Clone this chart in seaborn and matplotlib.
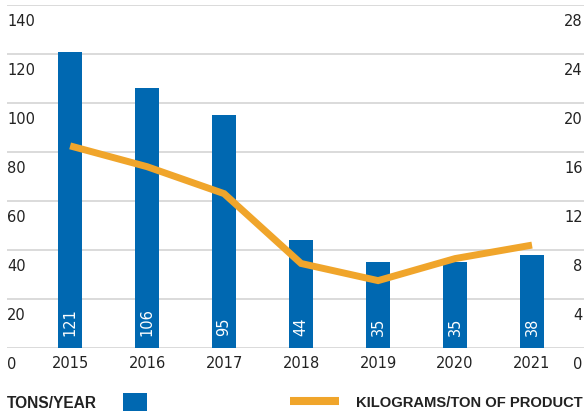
import numpy as np
import pandas as pd
import seaborn as sns
import matplotlib.pyplot as plt
import matplotlib.transforms as mtransforms
from matplotlib.patches import Patch
from matplotlib.lines import Line2D

# values
years = ["2015", "2016", "2017", "2018", "2019", "2020", "2021"]
tons_per_year = [121, 106, 95, 44, 35, 35, 38]
kg_per_ton = [16.5, 14.8, 12.6, 6.9, 5.5, 7.3, 8.4]
left_ticks = [0, 20, 40, 60, 80, 100, 120, 140]
right_ticks = [0, 4, 8, 12, 16, 20, 24, 28]

blue = "#0068b1"
orange = "#f0a52b"
grid_gray = "#d4d4d4"
text_col = "#222222"

sns.set_style("white")
plt.rcParams["font.family"] = ["DejaVu Sans"]

df = pd.DataFrame({"year": years, "tons": tons_per_year, "kg": kg_per_ton})
df["pos"] = np.arange(len(df))

fig = plt.figure(figsize=(5.86, 4.14), dpi=100)
ax = fig.add_axes([7 / 586, 1 - 349 / 414, 577 / 586, 343 / 414])

sns.barplot(data=df, x="year", y="tons", color=blue, width=0.31,
            saturation=1, linewidth=0, ax=ax)

# white rotated values near the base of each bar
for i, v in enumerate(tons_per_year):
    ax.annotate(str(v), xy=(i, 0), xytext=(0, 9.5), textcoords="offset points",
                rotation=90, ha="center", va="bottom", color="white", fontsize=10.5)

ax.set_ylim(0, 140)
ax.set_yticks(left_ticks)
ax.yaxis.grid(True, color=grid_gray, lw=1.2)
ax.set_axisbelow(True)
ax.set_xlabel("")
ax.set_ylabel("")
sns.despine(ax=ax, left=True, bottom=True)
ax.tick_params(axis="y", length=0, pad=0, labelsize=10.5, labelcolor=text_col)
ax.tick_params(axis="x", length=0, pad=5, labelsize=10.5, labelcolor=text_col)

# right axis for kilograms per ton
ax2 = ax.twinx()
sns.lineplot(data=df, x="pos", y="kg", color=orange, lw=5, ax=ax2)
for ln in ax2.lines:
    ln.set_solid_capstyle("butt")
    ln.set_solid_joinstyle("miter")
ax2.set_ylim(0, 28)
ax2.set_yticks(right_ticks)
ax2.set_xlabel("")
ax2.set_ylabel("")
ax2.grid(False)
sns.despine(ax=ax2, left=True, bottom=True, right=True)
ax2.tick_params(axis="y", length=0, pad=-1, labelsize=10.5, labelcolor=text_col)

ax.set_xlim(-0.82, 6.675)

# y labels sit just under their gridlines
shift = mtransforms.ScaledTranslation(0, -8 / 100, fig.dpi_scale_trans)
for lab in ax.get_yticklabels():
    lab.set_ha("left")
    lab.set_va("top")
    lab.set_transform(lab.get_transform() + shift)
for lab in ax2.get_yticklabels():
    lab.set_ha("right")
    lab.set_va("top")
    lab.set_transform(lab.get_transform() + shift)

# legend row at the bottom
fig.legend([Patch(facecolor=blue, edgecolor="none")], ["TONS/YEAR"],
           loc="center left", bbox_to_anchor=(7 / 586, 1 - 403 / 414),
           markerfirst=False, frameon=False, borderpad=0, borderaxespad=0,
           handlelength=1.5, handleheight=1.5, handletextpad=1.7,
           prop={"family": "Liberation Sans", "weight": "bold", "size": 11.2},
           labelcolor=text_col)
fig.legend([Line2D([], [], color=orange, lw=5.8, solid_capstyle="butt")],
           ["KILOGRAMS/TON OF PRODUCT"],
           loc="center right", bbox_to_anchor=(583 / 586, 1 - 403 / 414),
           frameon=False, borderpad=0, borderaxespad=0,
           handlelength=3.3, handletextpad=1.2,
           prop={"family": "Liberation Sans", "weight": "bold", "size": 10.6},
           labelcolor=text_col)

fig.savefig("out.png", dpi=100)
